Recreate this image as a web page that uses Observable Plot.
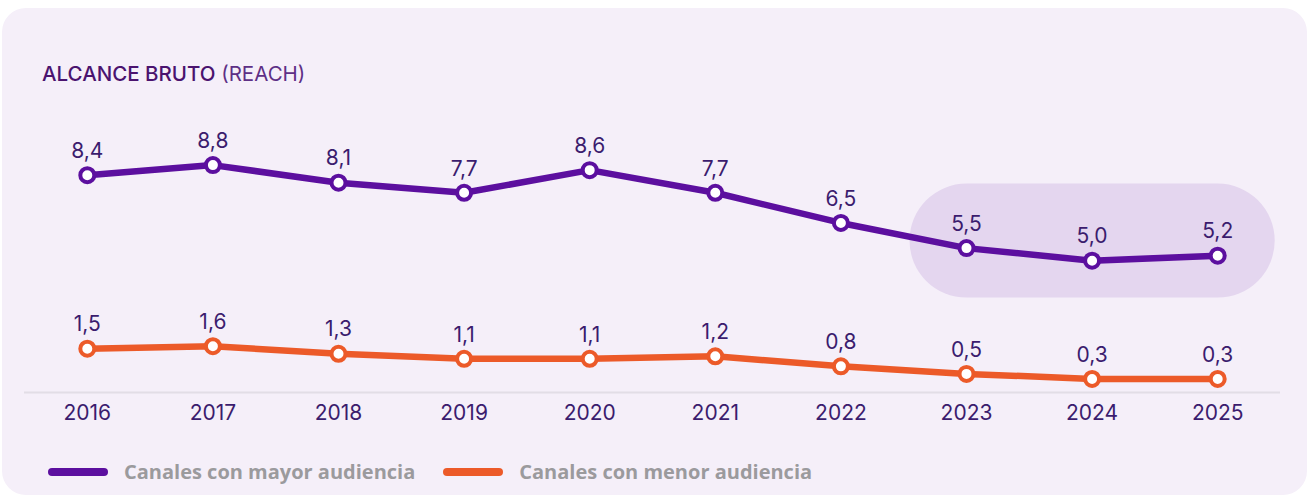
<!DOCTYPE html>
<html>
<head>
<meta charset="utf-8">
<script src="https://cdn.jsdelivr.net/npm/d3@7"></script>
<script src="https://cdn.jsdelivr.net/npm/@observablehq/plot@0.6"></script>
<style>
  html, body { margin: 0; padding: 0; background: #ffffff; width: 1309px; height: 499px; overflow: hidden; position: relative; }
  #card { position: absolute; left: 2px; top: 8px; width: 1305px; height: 487px; border-radius: 24px; background: #f5eff9; }
  #title { position: absolute; left: 42px; top: 61px; font-family: Inter, "Noto Sans", sans-serif; font-size: 20.5px; color: #4a136f; letter-spacing: 0px; }
  #title b { font-weight: 500; }
  #title span { font-weight: 400; color: #5e2f86; }
  #chart { position: absolute; left: 0; top: 100px; }
  #legend { position: absolute; left: 48px; top: 458px; display: flex; align-items: center; font-family: "Open Sans", "Noto Sans", sans-serif; font-weight: 700; font-size: 20px; color: #9b9a9d; }
  .item { display: flex; align-items: center; margin-right: 28px; }
  .sw { width: 60px; height: 8px; border-radius: 4px; margin-right: 16px; }
</style>
</head>
<body>
<div id="card"></div>
<div id="title"><b>ALCANCE BRUTO</b> <span>(REACH)</span></div>
<div id="chart"></div>
<div id="legend"></div>
<script>
// ---- data ----
const years = ["2016", "2017", "2018", "2019", "2020", "2021", "2022", "2023", "2024", "2025"];
const mayorAudiencia = [8.4, 8.8, 8.1, 7.7, 8.6, 7.7, 6.5, 5.5, 5.0, 5.2];
const menorAudiencia = [1.5, 1.6, 1.3, 1.1, 1.1, 1.2, 0.8, 0.5, 0.3, 0.3];
const seriesNames = ["Canales con mayor audiencia", "Canales con menor audiencia"];
const highlightYears = ["2023", "2025"];
const highlightLevel = 5.8;

// ---- styles ----
const PURPLE = "#5c0f9f";
const ORANGE = "#ec5a29";
const TEXT = "#3b1c6e";
const colors = [PURPLE, ORANGE];

const rows = [];
[mayorAudiencia, menorAudiencia].forEach((vals, si) => {
  vals.forEach((v, i) => rows.push({year: years[i], value: v, series: seriesNames[si]}));
});
const fmt = v => v.toFixed(1).replace(".", ",");
const highlightRows = highlightYears.map(y => ({year: y, value: highlightLevel}));

const chart = Plot.plot({
  width: 1309,
  height: 340,
  marginLeft: 24,
  marginRight: 29,
  marginTop: 47,
  marginBottom: 48,
  style: {background: "transparent", fontFamily: "Inter, 'Noto Sans', sans-serif", overflow: "visible"},
  x: {type: "point", domain: years, padding: 0.5, round: false},
  y: {domain: [-0.24, 9.5], axis: null},
  color: {domain: seriesNames, range: colors},
  marks: [
    Plot.line(highlightRows, {x: "year", y: "value", stroke: "#e4d6ef", strokeWidth: 114, strokeLinecap: "round"}),
    Plot.ruleY([-0.24], {stroke: "#e2dde6", strokeWidth: 2}),
    Plot.axisX({tickSize: 0, tickPadding: 13, fontSize: 21, fill: TEXT, label: null}),
    Plot.line(rows, {x: "year", y: "value", z: "series", stroke: "series", strokeWidth: 6.5, strokeLinejoin: "round"}),
    Plot.dot(rows, {x: "year", y: "value", stroke: "series", fill: "white", r: 7, strokeWidth: 4}),
    Plot.text(rows, {x: "year", y: "value", text: d => fmt(d.value), dy: -24, fontSize: 21, fill: TEXT})
  ]
});
document.getElementById("chart").appendChild(chart);

const legend = document.getElementById("legend");
seriesNames.forEach((name, i) => {
  const item = document.createElement("div");
  item.className = "item";
  const sw = document.createElement("div");
  sw.className = "sw";
  sw.style.background = colors[i];
  const label = document.createElement("span");
  label.textContent = name;
  item.appendChild(sw);
  item.appendChild(label);
  legend.appendChild(item);
});
</script>
</body>
</html>
